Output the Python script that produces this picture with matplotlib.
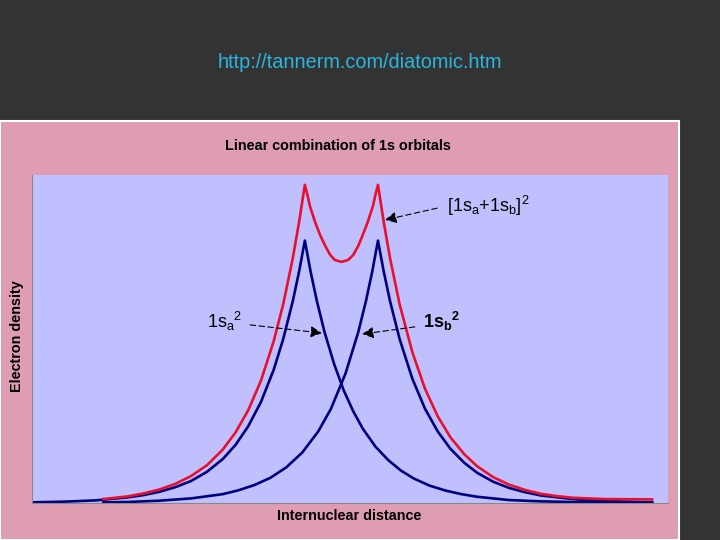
import matplotlib
matplotlib.use("Agg")
import matplotlib.pyplot as plt
from matplotlib.patches import Rectangle

# --- Data (arbitrary units) ---
xa = [0.0, 0.5, 1.0, 1.5, 1.75, 2.0, 2.25, 2.5, 2.75, 3.0, 3.2, 3.4, 3.6, 3.8, 3.95, 4.1, 4.2, 4.29,
      4.38, 4.48, 4.6, 4.75, 4.9, 5.05, 5.2, 5.4, 5.6, 5.8, 6.0, 6.25, 6.5, 6.75, 7.0, 7.5, 8.0, 8.5, 9.0, 9.75]
ya = [0.002, 0.004, 0.008, 0.017, 0.024, 0.034, 0.048, 0.067, 0.095, 0.134, 0.177, 0.234, 0.308, 0.406,
      0.500, 0.615, 0.706, 0.80,
      0.706, 0.615, 0.521, 0.424, 0.344, 0.280, 0.227, 0.172, 0.131, 0.099, 0.075, 0.053, 0.038, 0.027,
      0.019, 0.009, 0.005, 0.003, 0.002, 0.001]

xb = [1.12, 1.5, 2.0, 2.5, 3.0, 3.25, 3.5, 3.75, 4.0, 4.25, 4.5, 4.7, 4.93, 5.13, 5.25, 5.35, 5.44,
      5.53, 5.63, 5.78, 5.98, 6.18, 6.38, 6.58, 6.8, 7.0, 7.25, 7.5, 7.75, 8.0, 8.5, 9.0, 9.75]
yb = [0.002, 0.003, 0.007, 0.014, 0.027, 0.039, 0.055, 0.077, 0.109, 0.154, 0.218, 0.287, 0.395,
      0.521, 0.615, 0.706, 0.80,
      0.706, 0.615, 0.500, 0.379, 0.287, 0.218, 0.165, 0.122, 0.092, 0.065, 0.046, 0.033, 0.023,
      0.012, 0.006, 0.002]

xsum = [1.12, 1.5, 1.75, 2.0, 2.25, 2.5, 2.75, 3.0, 3.2, 3.4, 3.6, 3.8, 3.95, 4.1, 4.2, 4.29,
        4.33, 4.37, 4.45, 4.53, 4.61, 4.69, 4.76, 4.866, 4.97, 5.05, 5.13, 5.20, 5.28, 5.36, 5.40, 5.44,
        5.53, 5.63, 5.78, 5.98, 6.18, 6.38, 6.58, 6.8, 7.0, 7.25, 7.5, 7.75, 8.0, 8.25, 8.5, 9.0, 9.75]
ysum = [0.012, 0.020, 0.029, 0.041, 0.058, 0.082, 0.115, 0.163, 0.215, 0.283, 0.373, 0.493, 0.606,
        0.746, 0.857, 0.970,
        0.940, 0.905, 0.857, 0.817, 0.784, 0.756, 0.741, 0.735, 0.741, 0.756, 0.784, 0.817, 0.857,
        0.905, 0.940, 0.970,
        0.857, 0.746, 0.606, 0.460, 0.348, 0.264, 0.200, 0.148, 0.112, 0.079, 0.056, 0.040, 0.028,
        0.021, 0.016, 0.012, 0.011]

plt.rcParams["mathtext.default"] = "regular"

# --- Figure and pink panel ---
fig = plt.figure(figsize=(7.2, 5.4), dpi=100, facecolor="#333333")
fig.patches.append(Rectangle((0, 0), 679/720, 419/540, transform=fig.transFigure,
                             facecolor="#DE9DB3", edgecolor="white", lw=1.5, zorder=-1))
fig.text(0.5, 1 - 62/540, "http://tannerm.com/diatomic.htm", color="#2BB5DE",
         fontsize=14.3, family="Liberation Sans", ha="center", va="center")

font = "Liberation Sans"
fig.text(338/720, 1 - 146/540, "Linear combination of 1s orbitals", fontsize=10.4,
         fontweight="bold", family=font, ha="center", va="center")
fig.text(349/720, 1 - 516/540, "Internuclear distance", fontsize=10.4,
         fontweight="bold", family=font, ha="center", va="center")
fig.text(17/720, 1 - 336/540, "Electron density", fontsize=10.4, rotation=90,
         fontweight="bold", family=font, ha="center", va="center")

# --- Plot area ---
ax = fig.add_axes([32/720, 37/540, 636/720, 328/540])
ax.set_facecolor("#C0C0FF")
ax.set_xlim(0, 10)
ax.set_ylim(0, 1)
ax.set_xticks([])
ax.set_yticks([])
for s in ["top", "right"]:
    ax.spines[s].set_visible(False)
for s in ["left", "bottom"]:
    ax.spines[s].set_color("#888888")

ax.plot(xa, ya, color="#000080", lw=1.9)
ax.plot(xb, yb, color="#000080", lw=1.9)
ax.plot(xsum, ysum, color="#E8102C", lw=1.9)

# --- Labels with arrows ---
arrow = dict(arrowstyle="-|>", linestyle=(0, (5, 3)), lw=0.8, color="black",
             mutation_scale=17, shrinkA=0, shrinkB=0)
ax.annotate("", xy=(5.55, 0.863), xytext=(6.37, 0.899), arrowprops=arrow)
ax.text(6.52, 0.905, r"$[1s_a{+}1s_b]^2$", fontsize=13, family=font,
        ha="left", va="center")
ax.annotate("", xy=(4.56, 0.518), xytext=(3.43, 0.543), arrowprops=arrow)
ax.text(2.75, 0.552, r"${1s_a}^2$", fontsize=13, family=font,
        ha="left", va="center")
ax.annotate("", xy=(5.19, 0.515), xytext=(6.02, 0.537), arrowprops=arrow)
ax.text(6.14, 0.552, r"${1s_b}^2$", fontsize=13, fontweight="bold", family=font,
        ha="left", va="center")

fig.savefig("out.png", dpi=100, facecolor=fig.get_facecolor())
